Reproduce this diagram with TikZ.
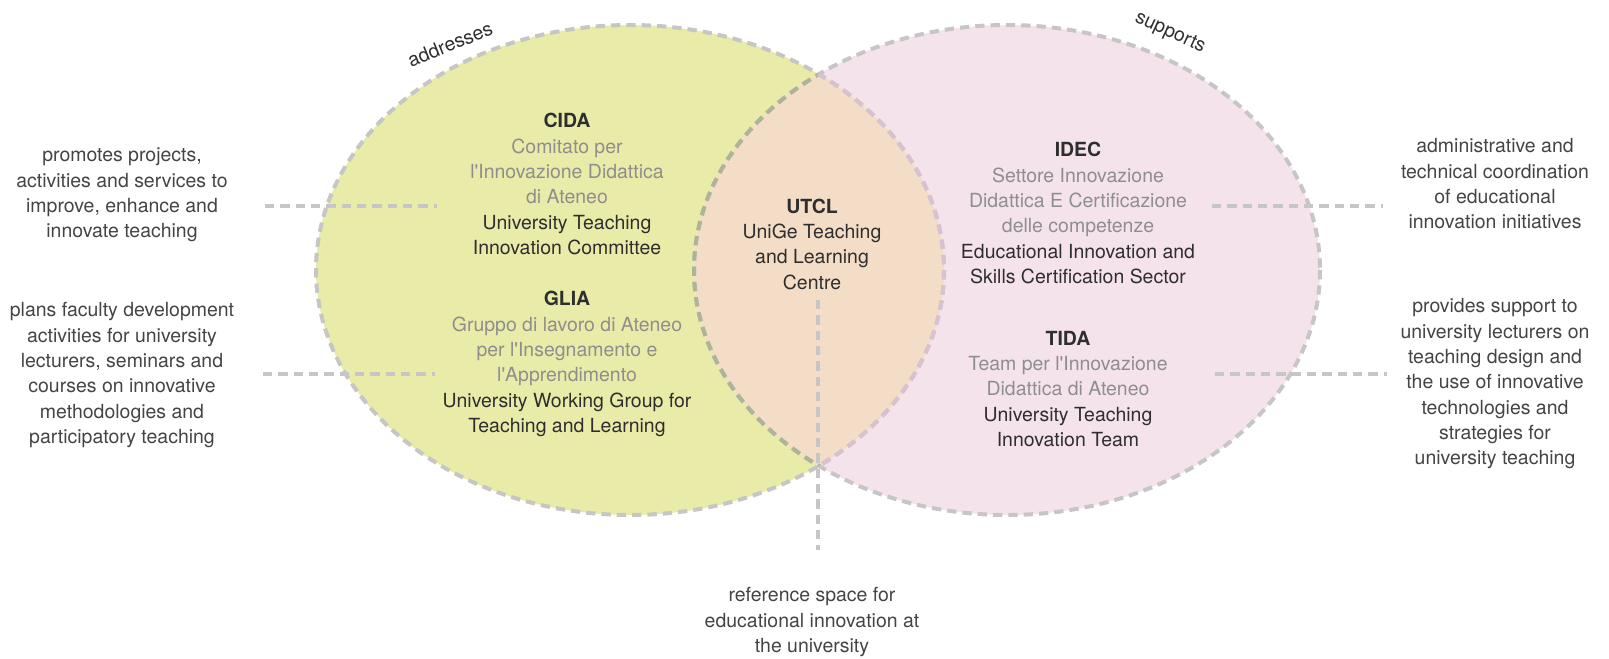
\documentclass[tikz,border=0pt]{standalone}
\usepackage{fontspec}
\setmainfont{TeX Gyre Heros}
\usepackage{tikz}
\usepackage{xcolor}
\definecolor{lemon}{HTML}{E9EBA9}
\definecolor{blush}{HTML}{F5E3EB}
\definecolor{peach}{HTML}{F3DDC6}
\definecolor{rimgray}{HTML}{C6C6C6}
\definecolor{rimgreen}{HTML}{AEB497}
\definecolor{rimpink}{HTML}{D8C2CF}
\definecolor{itagray}{HTML}{8E8E8E}
\definecolor{namedark}{HTML}{2E2E2E}
\definecolor{descgray}{HTML}{444444}
\newcommand\ita[1]{\textcolor{itagray}{#1}}
\newcommand\apo{\textquotesingle}

\begin{document}
\begin{tikzpicture}[x=0.75pt,y=0.75pt,yscale=-1,xscale=1,
	txt/.style={align=center,inner sep=0.75pt,font=\fontsize{14.6}{19}\selectfont,text=descgray},
	unit/.style={txt,text=namedark},
	rim/.style={line width=3pt,dash pattern=on 7pt off 4.5pt},
	link/.style={rim,draw=rimgray}]
			\useasboundingbox (0,0) rectangle (1609,658);
	
			% Ellipse fills
			\fill[lemon] (630,270) ellipse [x radius=314, y radius=245];
			\fill[blush] (1007,270) ellipse [x radius=313, y radius=245];
			\begin{scope}
			\clip (630,270) ellipse [x radius=314, y radius=245];
			\fill[peach] (1007,270) ellipse [x radius=313, y radius=245];
			\end{scope}
			% Ellipse rims
			\draw[rim,rimgray] (630,270) ellipse [x radius=314, y radius=245];
			\draw[rim,rimgray] (1007,270) ellipse [x radius=313, y radius=245];
			\begin{scope}
			\clip (630,270) ellipse [x radius=314, y radius=245];
			\draw[rim,rimgreen] (1007,270) ellipse [x radius=313, y radius=245];
			\end{scope}
			\begin{scope}
			\clip (1007,270) ellipse [x radius=313, y radius=245];
			\draw[rim,rimpink] (630,270) ellipse [x radius=314, y radius=245];
			\end{scope}
	
			% Text Node
			\draw (450,44) node [txt,text=namedark,rotate=22] (addr) {addresses};
			% Text Node
			\draw (1170,33) node [txt,text=namedark,rotate=-25] (supp) {supports};
			% Text Node
			\draw (567,184) node [unit] (cida) {\textbf{CIDA}\\ \ita{Comitato per}\\ \ita{l\apo Innovazione Didattica}\\ \ita{di Ateneo}\\ University Teaching\\ Innovation Committee};
			% Text Node
			\draw (567,364) node [unit] (glia) {\textbf{GLIA}\\ \ita{Gruppo di lavoro di Ateneo}\\ \ita{per l\apo Insegnamento e}\\ \ita{l\apo Apprendimento}\\ University Working Group for\\ Teaching and Learning};
			% Text Node
			\draw (812,244) node [unit] (utcl) {\textbf{UTCL}\\ UniGe Teaching\\ and Learning\\ Centre};
			% Text Node
			\draw (1078,213) node [unit] (idec) {\textbf{IDEC}\\ \ita{Settore Innovazione}\\ \ita{Didattica E Certificazione}\\ \ita{delle competenze}\\ Educational Innovation and\\ Skills Certification Sector};
			% Text Node
			\draw (1068,389) node [unit] (tida) {\textbf{TIDA}\\ \ita{Team per l\apo Innovazione}\\ \ita{Didattica di Ateneo}\\ University Teaching\\ Innovation Team};
			% Text Node
			\draw (122,195) node [txt] (promo) {promotes projects,\\ activities and services to\\ improve, enhance and\\ innovate teaching};
			% Text Node
			\draw (122,375) node [txt] (plans) {plans faculty development\\ activities for university\\ lecturers, seminars and\\ courses on innovative\\ methodologies and\\ participatory teaching};
			% Text Node
			\draw (1495,184) node [txt] (admin) {administrative and\\ technical coordination\\ of educational\\ innovation initiatives};
			% Text Node
			\draw (1495,384) node [txt] (provides) {provides support to\\ university lecturers on\\ teaching design and\\ the use of innovative\\ technologies and\\ strategies for\\ university teaching};
			% Text Node
			\draw (812,622) node [txt] (refspace) {reference space for\\ educational innovation at\\ the university};
	
			% Connection ends
			\coordinate (promoA) at (265,206);
			\coordinate (promoB) at (437,206);
			\coordinate (plansA) at (263,374);
			\coordinate (plansB) at (435,374);
			\coordinate (adminA) at (1212,206);
			\coordinate (adminB) at (1383,206);
			\coordinate (provA) at (1215,374);
			\coordinate (provB) at (1387,374);
			\coordinate (utclA) at (818,300);
			\coordinate (utclB) at (818,550);
			% Connection
			\draw[link] (promoA) -- (promoB);
			% Connection
			\draw[link] (plansA) -- (plansB);
			% Connection
			\draw[link] (adminA) -- (adminB);
			% Connection
			\draw[link] (provA) -- (provB);
			% Connection
			\draw[link] (utclA) -- (utclB);
			\end{tikzpicture}
\end{document}
